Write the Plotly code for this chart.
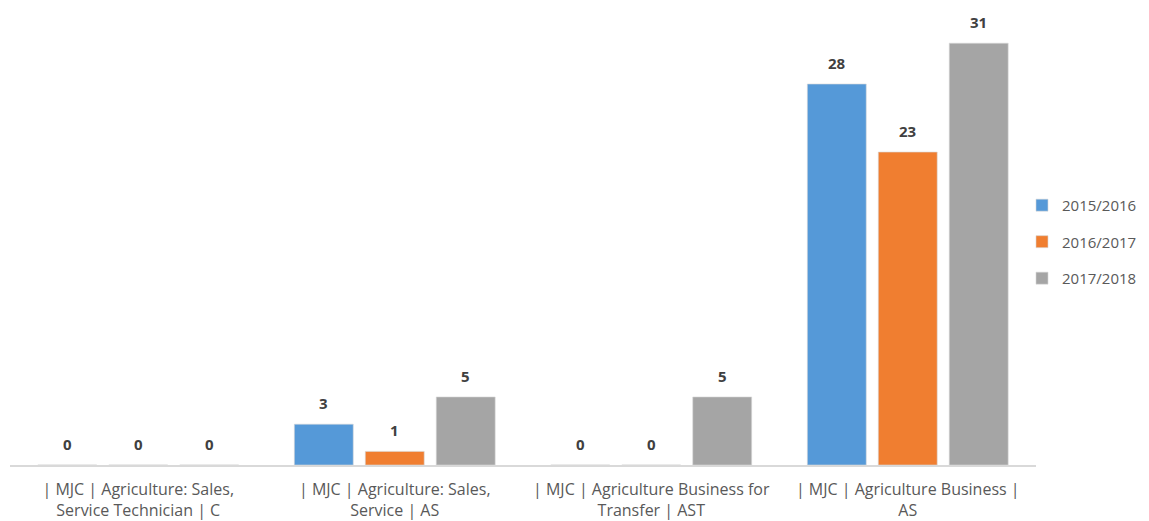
import plotly.graph_objects as go

categories = [
    "| MJC | Agriculture: Sales,<br>Service Technician | C",
    "| MJC | Agriculture: Sales,<br>Service | AS",
    "| MJC | Agriculture Business for<br>Transfer | AST",
    "| MJC | Agriculture Business |<br>AS",
]
series_names = ["2015/2016", "2016/2017", "2017/2018"]
v2015 = [0, 3, 0, 28]
v2016 = [0, 1, 0, 23]
v2017 = [0, 5, 5, 31]
colors = ["#5599D8", "#F07E30", "#A5A5A5"]

FONT = "Open Sans"
fig = go.Figure()
all_series = [v2015, v2016, v2017]
for name, vals, col in zip(series_names, all_series, colors):
    fig.add_trace(go.Bar(
        x=categories, y=vals, name=name, legendgroup=name,
        marker=dict(color=col, line=dict(width=1, color="rgba(215,215,215,0.6)")),
        cliponaxis=False,
    ))

# data labels above bars, offset per series within group
slot_px = 71
for j, vals in enumerate(all_series):
    for cat, v in zip(categories, vals):
        fig.add_annotation(
            x=cat, y=v, xref="x", yref="y", text=f"<b>{v}</b>",
            showarrow=False, xshift=(j - 1) * slot_px, yshift=21,
            yanchor="middle",
            font=dict(family=FONT, size=15, color="#404040"),
        )

fig.update_layout(
    width=1149, height=521,
    paper_bgcolor="white", plot_bgcolor="white",
    barmode="group", bargap=0.17, bargroupgap=0.17,
    margin=dict(l=2, r=121, t=8, b=64, autoexpand=False),
    font=dict(family=FONT, size=16, color="#595959"),
    legend=dict(xref="container", yref="container", x=0.8825, y=0.551,
                yanchor="middle", xanchor="left",
                font=dict(family=FONT, size=15, color="#595959"),
                tracegroupgap=14),
    showlegend=True,
)
fig.update_xaxes(showline=True, linecolor="#D9D9D9", linewidth=1.5,
                 ticks="", ticklabelstandoff=9,
                 tickfont=dict(family=FONT, size=16, color="#595959"))
fig.update_yaxes(range=[0, 33], visible=False, showgrid=False)

fig.write_html("out.html")
